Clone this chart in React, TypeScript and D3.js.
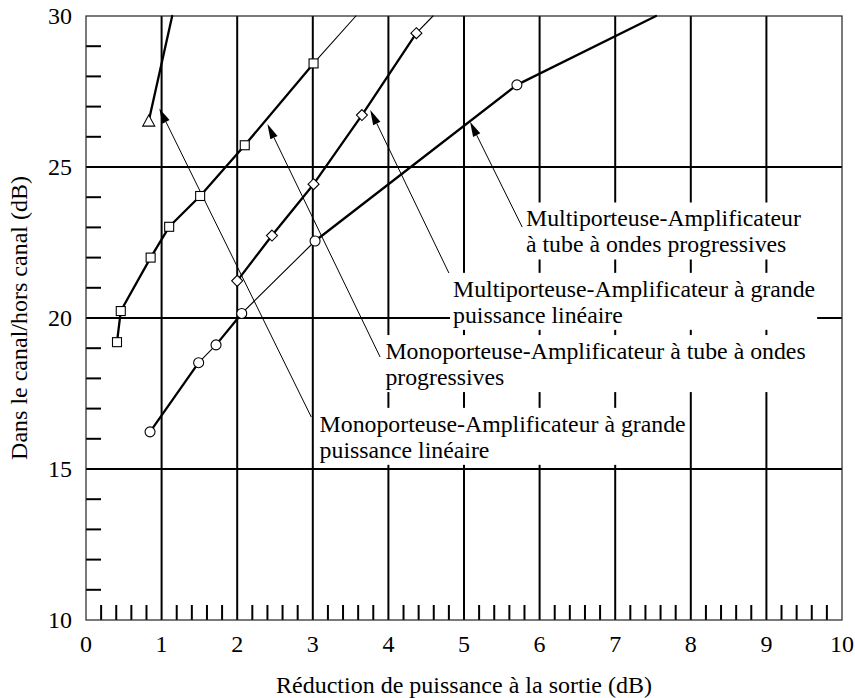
import React, { useMemo } from "react";
import * as d3 from "d3";

// ---------- data ----------
const xTicks = [0, 1, 2, 3, 4, 5, 6, 7, 8, 9, 10];
const yTicks = [10, 15, 20, 25, 30];
const yGrid = [15, 20, 25];
const xGrid = [1, 2, 3, 4, 5, 6, 7, 8, 9];

// Monoporteuse – amplificateur à grande puissance linéaire (triangles)
const triX = [0.83];
const triY = [26.52];
const triTail = [1.14, 30.0];

// Monoporteuse – amplificateur à tube à ondes progressives (squares)
const sqX = [0.41, 0.46, 0.855, 1.1, 1.51, 2.1, 3.01];
const sqY = [19.2, 20.23, 22.0, 23.02, 24.04, 25.72, 28.43];
const sqTail = [3.57, 30.0];

// Multiporteuse – amplificateur à grande puissance linéaire (diamonds)
const diaX = [2.0, 2.46, 3.01, 3.65, 4.37];
const diaY = [21.23, 22.73, 24.43, 26.72, 29.43];
const diaTail = [4.59, 30.0];

// Multiporteuse – amplificateur à tube à ondes progressives (circles)
const cirX = [0.847, 1.49, 1.72, 2.06, 3.03, 5.7];
const cirY = [16.23, 18.52, 19.11, 20.15, 22.55, 27.72];
const cirTail = [7.54, 30.0];

// annotation labels
const labelLines = [
  ["Multiporteuse-Amplificateur", "à tube à ondes progressives"],
  ["Multiporteuse-Amplificateur à grande", "puissance linéaire"],
  ["Monoporteuse-Amplificateur à tube à ondes", "progressives"],
  ["Monoporteuse-Amplificateur à grande", "puissance linéaire"],
];
const labelX = [5.82, 4.855, 3.96, 3.09];
const labelY = [23.03, 20.7, 18.64, 16.23];
const leaderFromX = [5.77, 4.8, 3.89, 2.98];
const leaderFromY = [23.01, 21.49, 18.71, 16.72];
const arrowTipX = [5.08, 3.76, 2.4, 0.97];
const arrowTipY = [26.5, 26.89, 26.42, 26.94];

const xTitle = "Réduction de puissance à la sortie (dB)";
const yTitle = "Dans le canal/hors canal (dB)";

// ---------- layout ----------
const W = 855;
const H = 698;
const M = { left: 86, right: 842, top: 16, bottom: 620 };
const FONT = '"Liberation Serif", "Times New Roman", Times, "DejaVu Serif", serif';
const THICK = 2.3;
const THIN = 1.1;
const LINE_GAP = 26;
const LABEL_SIZE = 23.8;

const x = d3.scaleLinear().domain([0, 10]).range([M.left, M.right]);
const y = d3.scaleLinear().domain([10, 30]).range([M.bottom, M.top]);

function measure(text: string, size: number) {
  const c = document.createElement("canvas").getContext("2d")!;
  c.font = `${size}px ${FONT}`;
  return c.measureText(text).width;
}

function segs(xs: number[], ys: number[], tail: number[], thinIdx: number[], tailThin: boolean) {
  const out: { x1: number; y1: number; x2: number; y2: number; w: number }[] = [];
  for (let i = 0; i < xs.length - 1; i++) {
    out.push({
      x1: x(xs[i]), y1: y(ys[i]), x2: x(xs[i + 1]), y2: y(ys[i + 1]),
      w: thinIdx.includes(i) ? THIN : THICK,
    });
  }
  const n = xs.length - 1;
  out.push({ x1: x(xs[n]), y1: y(ys[n]), x2: x(tail[0]), y2: y(tail[1]), w: tailThin ? THIN : THICK });
  return out;
}

export default function App() {
  const lines = useMemo(
    () => [
      ...segs(triX, triY, triTail, [], false),
      ...segs(sqX, sqY, sqTail, [], true),
      ...segs(diaX, diaY, diaTail, [], true),
      ...segs(cirX, cirY, cirTail, [1, 3], false),
    ],
    []
  );

  const labelBoxes = useMemo(
    () =>
      labelLines.map((ls, i) => {
        const w = Math.max(...ls.map((t) => measure(t, LABEL_SIZE)));
        const lx = x(labelX[i]);
        const by = y(labelY[i]);
        return { x: lx - 3, y: by - 24, w: w + 5, h: LINE_GAP + 31 };
      }),
    []
  );

  const xMinor: number[] = [];
  for (let i = 1; i < 50; i++) if (i % 5 !== 0) xMinor.push(i / 5);
  const yMinor: number[] = [];
  for (let v = 11; v < 30; v++) if (v % 5 !== 0) yMinor.push(v);

  const line = d3.line();
  const ts = { fontFamily: FONT };

  return (
    <svg width={W} height={H} style={{ position: "absolute", left: 0, top: 0, background: "#fff", fontFamily: FONT }}>
      <rect width={W} height={H} fill="#fff" />
      {/* grid */}
      {xGrid.map((v) => (
        <line key={"gx" + v} x1={x(v)} x2={x(v)} y1={M.top} y2={M.bottom} stroke="#000" strokeWidth={2} />
      ))}
      {yGrid.map((v) => (
        <line key={"gy" + v} x1={M.left} x2={M.right} y1={y(v)} y2={y(v)} stroke="#000" strokeWidth={2} />
      ))}
      {/* minor ticks */}
      {xMinor.map((v) => (
        <line key={"mx" + v} x1={x(v)} x2={x(v)} y1={M.bottom - 15} y2={M.bottom} stroke="#000" strokeWidth={2} />
      ))}
      {yMinor.map((v) => (
        <line key={"my" + v} x1={M.left} x2={M.left + 15} y1={y(v)} y2={y(v)} stroke="#000" strokeWidth={2} />
      ))}
      {/* frame */}
      <rect x={M.left} y={M.top} width={M.right - M.left} height={M.bottom - M.top} fill="none" stroke="#222" strokeWidth={1.2} />

      {/* label backgrounds */}
      {labelBoxes.map((b, i) => (
        <rect key={"lb" + i} x={b.x} y={b.y} width={b.w} height={b.h} fill="#fff" />
      ))}

      {/* leader lines with arrows */}
      {labelLines.map((_, i) => {
        const x0 = x(leaderFromX[i]);
        const y0 = y(leaderFromY[i]);
        const x1 = x(arrowTipX[i]);
        const y1 = y(arrowTipY[i]);
        const dx = x1 - x0;
        const dy = y1 - y0;
        const len = Math.hypot(dx, dy);
        const ux = dx / len;
        const uy = dy / len;
        const L = 15;
        const hw = 4;
        const bx = x1 - ux * L;
        const by = y1 - uy * L;
        const pts = [
          [x1, y1],
          [bx - uy * hw, by + ux * hw],
          [bx + uy * hw, by - ux * hw],
        ];
        return (
          <g key={"ld" + i}>
            <line x1={x0} y1={y0} x2={bx} y2={by} stroke="#000" strokeWidth={1} />
            <polygon points={pts.map((p) => p.join(",")).join(" ")} fill="#000" />
          </g>
        );
      })}

      {/* data lines */}
      {lines.map((s, i) => (
        <path key={"s" + i} d={line([[s.x1, s.y1], [s.x2, s.y2]]) || ""} stroke="#000" strokeWidth={s.w} fill="none" strokeLinecap="round" />
      ))}

      {/* markers */}
      {triX.map((v, i) => {
        const cx = x(v);
        const cy = y(triY[i]);
        return (
          <polygon key={"t" + i} points={`${cx},${cy - 6} ${cx - 6},${cy + 5} ${cx + 6},${cy + 5}`} fill="#fff" stroke="#000" strokeWidth={1.1} />
        );
      })}
      {sqX.map((v, i) => (
        <rect key={"q" + i} x={x(v) - 4.5} y={y(sqY[i]) - 4.5} width={9} height={9} fill="#fff" stroke="#000" strokeWidth={1.1} />
      ))}
      {diaX.map((v, i) => {
        const cx = x(v);
        const cy = y(diaY[i]);
        return (
          <polygon key={"d" + i} points={`${cx},${cy - 5.5} ${cx + 5.5},${cy} ${cx},${cy + 5.5} ${cx - 5.5},${cy}`} fill="#fff" stroke="#000" strokeWidth={1.1} />
        );
      })}
      {cirX.map((v, i) => (
        <circle key={"c" + i} cx={x(v)} cy={y(cirY[i])} r={5} fill="#fff" stroke="#000" strokeWidth={1.1} />
      ))}

      {/* label texts */}
      {labelLines.map((ls, i) =>
        ls.map((t, j) => (
          <text key={"lt" + i + j} x={x(labelX[i])} y={y(labelY[i]) + j * LINE_GAP} fontSize={LABEL_SIZE} fill="#000" style={ts}>
            {t}
          </text>
        ))
      )}

      {/* tick labels */}
      {xTicks.map((v) => (
        <text key={"xt" + v} x={x(v)} y={652} textAnchor="middle" fontSize={24} fill="#000" style={ts}>
          {v}
        </text>
      ))}
      {yTicks.map((v) => (
        <text key={"yt" + v} x={72} y={y(v) + 8} textAnchor="end" fontSize={24} fill="#000" style={ts}>
          {v}
        </text>
      ))}

      {/* axis titles */}
      <text x={(M.left + M.right) / 2} y={693} textAnchor="middle" fontSize={24} fill="#000" style={ts}>
        {xTitle}
      </text>
      <text transform={`translate(27,${(M.top + M.bottom) / 2}) rotate(-90)`} textAnchor="middle" fontSize={24} fill="#000" style={ts}>
        {yTitle}
      </text>
    </svg>
  );
}
